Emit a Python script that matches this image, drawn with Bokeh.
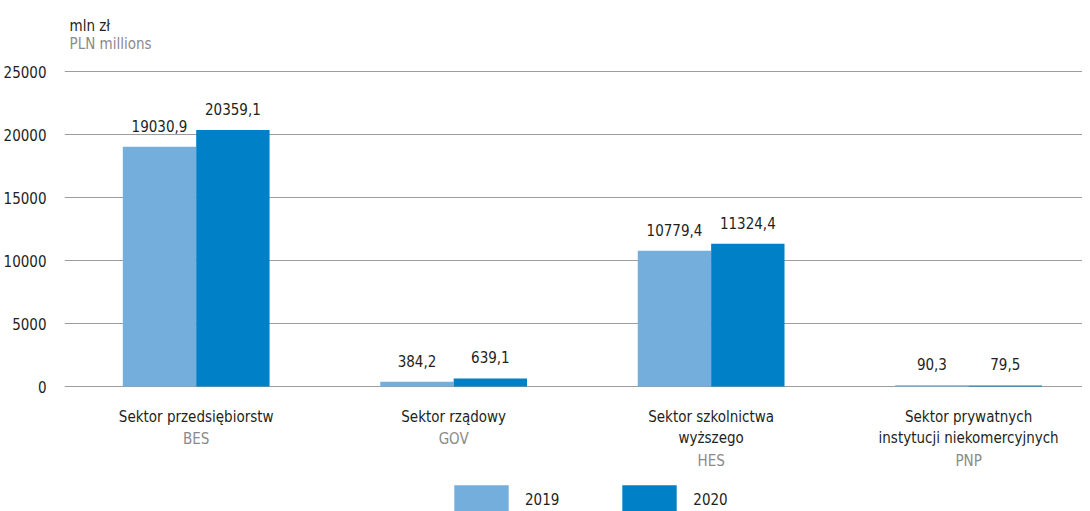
from bokeh.plotting import figure
from bokeh.models import Range1d, FixedTicker, Legend, LegendItem, ColumnDataSource
from bokeh.core.properties import value
from bokeh.embed import file_html
from bokeh.resources import INLINE

# ---- data ----
sectors = ["Sektor przedsiębiorstw", "Sektor rządowy",
           "Sektor szkolnictwa\nwyższego",
           "Sektor prywatnych\ninstytucji niekomercyjnych"]
codes = ["BES", "GOV", "HES", "PNP"]
years = ["2019", "2020"]
v2019 = [19030.9, 384.2, 10779.4, 90.3]
v2020 = [20359.1, 639.1, 11324.4, 79.5]
y_ticks = [0, 5000, 10000, 15000, 20000, 25000]
unit_pl = "mln zł"
unit_en = "PLN millions"

FNAME = "DejaVu Sans Condensed"
FONT = value(FNAME)
DARK = "#231f20"
GRAY = "#8a8a8a"
C2019 = "#74aedc"
C2020 = "#0080c6"

W, H = 1082, 511
px = 25000 / 315.0          # data units per pixel on y
TOP = 71                    # pixels above the 25000 line
y_end = 25000 + TOP * px
y_start = -(H - TOP - 315) * px
x_start = -0.0115
x_end = x_start + (W - 54) / 260.0

p = figure(width=W, height=H, output_backend="svg", toolbar_location=None,
           x_range=Range1d(x_start, x_end), y_range=Range1d(y_start, y_end),
           x_axis_type=None, min_border_left=54, min_border_right=0,
           min_border_top=0, min_border_bottom=0)
p.outline_line_color = None
p.xgrid.visible = False
p.ygrid.ticker = FixedTicker(ticks=y_ticks)
p.ygrid.grid_line_color = "#9d9d9d"
p.ygrid.grid_line_width = 1

ax = p.yaxis[0]
ax.ticker = FixedTicker(ticks=y_ticks)
ax.axis_line_color = None
ax.major_tick_line_color = None
ax.minor_tick_line_color = None
ax.major_label_standoff = 12
ax.major_label_text_font = FNAME
ax.major_label_text_font_size = "15px"
ax.major_label_text_color = DARK

bw = 0.285
xc = [i + 0.5 for i in range(len(codes))]
src = ColumnDataSource(dict(
    x19=[x - bw / 2 for x in xc], x20=[x + bw / 2 for x in xc],
    v19=v2019, v20=v2020,
    l19=[f"{v:.1f}".replace(".", ",") for v in v2019],
    l20=[f"{v:.1f}".replace(".", ",") for v in v2020],
    xc=xc, sec=sectors, code=codes,
    zero=[0] * len(codes),
    code_off=[21 + 22 * (s.count("\n") + 1) for s in sectors],
))

r19 = p.vbar(x="x19", top="v19", width=bw, source=src, fill_color=C2019, line_color=None)
r20 = p.vbar(x="x20", top="v20", width=bw, source=src, fill_color=C2020, line_color=None)

p.text(x="x19", y="v19", text="l19", source=src, text_align="center", text_baseline="bottom",
       y_offset=-15, text_font=FONT, text_font_size="15px", text_color=DARK)
p.text(x="x20", y="v20", text="l20", source=src, text_align="center", text_baseline="bottom",
       y_offset=-15, text_font=FONT, text_font_size="15px", text_color=DARK)

p.text(x="xc", y="zero", text="sec", source=src, text_align="center", text_baseline="top",
       y_offset=21, text_line_height=1.2, text_font=FONT, text_font_size="15px", text_color=DARK)
p.text(x="xc", y="zero", text="code", source=src, text_align="center", text_baseline="top",
       y_offset="code_off", text_font=FONT, text_font_size="15px", text_color=GRAY)

p.text(x=[x_start], y=[y_end], text=[unit_pl], x_offset=5, y_offset=16, text_baseline="top",
       text_font=FONT, text_font_size="15px", text_color=DARK)
p.text(x=[x_start], y=[y_end], text=[unit_en], x_offset=5, y_offset=34, text_baseline="top",
       text_font=FONT, text_font_size="15px", text_color=GRAY)

leg = Legend(items=[LegendItem(label=years[0], renderers=[r19]),
                    LegendItem(label=years[1], renderers=[r20])],
             orientation="horizontal", location=(383, -8),
             glyph_width=68, glyph_height=38, label_standoff=10, spacing=56,
             padding=0, margin=0, border_line_color=None, background_fill_alpha=0,
             label_text_font=FNAME, label_text_font_size="15px",
             label_text_color=DARK)
p.add_layout(leg, "center")

open("out.html", "w").write(file_html(p, INLINE))
